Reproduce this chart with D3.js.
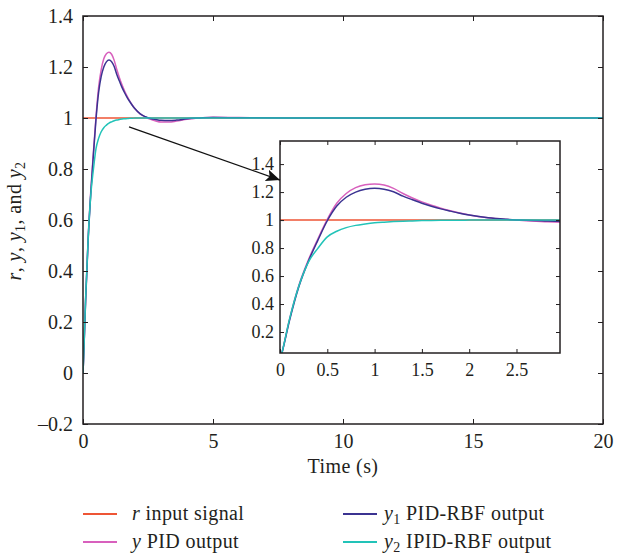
<!DOCTYPE html>
<html lang="en">
    <head>
        <meta charset="utf-8">
        <title>Step response</title>
        <script src="https://d3js.org/d3.v7.min.js"></script>
        <style type="text/css">
            body { margin: 0; background: #fff; }
            text { font-family: "Liberation Serif", serif; fill: #231f20; }
            .axis path { display: none; }
            .axis line { stroke: #231f20; stroke-width: 1; }
            .title { font-size: 20px; letter-spacing: 0.4px; }
        </style>
    </head>
    <body>
        <script type="text/javascript">

            //Data
            const time = [0, 0.02, 0.1, 0.2, 0.3, 0.4, 0.5, 0.6, 0.7, 0.8, 0.9, 1.0, 1.1, 1.2, 1.3, 1.4, 1.5, 1.6, 1.7, 1.8,
                          1.9, 2.0, 2.2, 2.4, 2.6, 2.8, 3.0, 3.3, 3.6, 4.0, 4.5, 5, 6, 8, 20];
            const rInput = time.map(() => 1);
            const yPID = [0, 0.05, 0.29, 0.535, 0.715, 0.865, 1.005, 1.12, 1.19, 1.232, 1.252, 1.258, 1.25, 1.226, 1.19, 1.158, 1.13, 1.106, 1.085, 1.066,
                          1.05, 1.036, 1.016, 1.004, 0.995, 0.988, 0.984, 0.984, 0.988, 0.995, 1.0, 1.003, 1.002, 1.0, 1.0];
            const y1PIDRBF = [0, 0.048, 0.28, 0.525, 0.705, 0.855, 0.995, 1.1, 1.163, 1.2, 1.22, 1.227, 1.221, 1.202, 1.171, 1.145, 1.12, 1.099, 1.08, 1.064,
                              1.049, 1.036, 1.016, 1.005, 0.998, 0.994, 0.991, 0.99, 0.992, 0.997, 1.0, 1.002, 1.001, 1.0, 1.0];
            const y2IPIDRBF = [0, 0.05, 0.29, 0.53, 0.70, 0.798, 0.88, 0.92, 0.946, 0.962, 0.972, 0.98, 0.985, 0.989, 0.992, 0.994, 0.996, 0.997, 0.998, 0.999,
                               0.999, 1.0, 1.0, 1.0, 1.0, 1.0, 1.0, 1.0, 1.0, 1.0, 1.0, 1.0, 1.0, 1.0, 1.0];

            const xTicks = [0, 5, 10, 15, 20];
            const yTicks = [-0.2, 0, 0.2, 0.4, 0.6, 0.8, 1, 1.2, 1.4];
            const insetXTicks = [0, 0.5, 1, 1.5, 2, 2.5];
            const insetYTicks = [0.2, 0.4, 0.6, 0.8, 1, 1.2, 1.4];

            const seriesNames = ["r", "y", "y1", "y2"];
            const seriesValues = [rInput, yPID, y1PIDRBF, y2IPIDRBF];
            const colors = ["#ee5535", "#d860bd", "#3b3391", "#22c3b8"];

            //declare consts
            const w = 617;
            const h = 556;
            const fmt = d => d < 0 ? "\u2013" + Math.abs(d) : String(d);

            const series = seriesNames.map((name, i) => ({
                name: name,
                color: colors[i],
                values: time.map((t, j) => ({t: t, v: seriesValues[i][j]}))
            }));

            const svg = d3.select("body")
                    .append("svg")
                    .attr("width", w)
                    .attr("height", h);

            const defs = svg.append("defs");

            //main plot scales
            const x = d3.scaleLinear().domain([0, 20]).range([83, 603]);
            const y = d3.scaleLinear().domain([-0.2, 1.4]).range([424, 16]);

            defs.append("clipPath").attr("id", "clipMain")
                .append("rect")
                .attr("x", x(0)).attr("y", y(1.4))
                .attr("width", x(20) - x(0)).attr("height", y(-0.2) - y(1.4));

            const line = d3.line()
                    .x(d => x(d.t))
                    .y(d => y(d.v))
                    .curve(d3.curveMonotoneX);

            svg.append("g")
                .attr("clip-path", "url(#clipMain)")
                .selectAll("path")
                .data(series)
                .enter()
                .append("path")
                .attr("fill", "none")
                .attr("stroke", d => d.color)
                .attr("stroke-width", 1.5)
                .attr("d", d => line(d.values));

            //axes, ticks pointing inward
            svg.append("g")
                .attr("class", "axis")
                .attr("transform", "translate(0," + y(-0.2) + ")")
                .call(d3.axisBottom(x).tickValues(xTicks).tickSize(-5).tickPadding(10).tickFormat(fmt))
                .selectAll("text").style("font-size", "20px");

            svg.append("g")
                .attr("class", "axis")
                .attr("transform", "translate(0," + y(1.4) + ")")
                .call(d3.axisTop(x).tickValues(xTicks).tickSize(-5).tickFormat(""));

            svg.append("g")
                .attr("class", "axis")
                .attr("transform", "translate(" + x(0) + ",0)")
                .call(d3.axisLeft(y).tickValues(yTicks).tickSize(-5).tickPadding(10).tickFormat(fmt))
                .selectAll("text").style("font-size", "20px");

            svg.append("g")
                .attr("class", "axis")
                .attr("transform", "translate(" + x(20) + ",0)")
                .call(d3.axisRight(y).tickValues(yTicks).tickSize(-5).tickFormat(""));

            svg.append("rect")
                .attr("x", x(0)).attr("y", y(1.4))
                .attr("width", x(20) - x(0)).attr("height", y(-0.2) - y(1.4))
                .attr("fill", "none")
                .attr("stroke", "#231f20")
                .attr("stroke-width", 1.5);

            //axis titles
            svg.append("text")
                .attr("class", "title")
                .attr("x", (x(0) + x(20)) / 2)
                .attr("y", 473)
                .attr("text-anchor", "middle")
                .text("Time (s)");

            const yTitle = svg.append("text")
                .attr("class", "title")
                .attr("transform", "translate(21," + ((y(1.4) + y(-0.2)) / 2 + 1) + ") rotate(-90)")
                .attr("text-anchor", "middle");
            yTitle.append("tspan").style("font-style", "italic").text("r");
            yTitle.append("tspan").text(", ");
            yTitle.append("tspan").style("font-style", "italic").text("y");
            yTitle.append("tspan").text(", ");
            yTitle.append("tspan").style("font-style", "italic").text("y");
            yTitle.append("tspan").attr("dy", 4).style("font-size", "14px").text("1");
            yTitle.append("tspan").attr("dy", -4).text(", and ");
            yTitle.append("tspan").style("font-style", "italic").text("y");
            yTitle.append("tspan").attr("dy", 4).style("font-size", "14px").text("2");

            //inset
            const ix = d3.scaleLinear().domain([0, 2.96]).range([280, 560]);
            const iy = d3.scaleLinear().domain([0.05, 1.565]).range([353, 141]);

            defs.append("clipPath").attr("id", "clipInset")
                .append("rect")
                .attr("x", ix(0)).attr("y", iy(1.565))
                .attr("width", ix(2.96) - ix(0)).attr("height", iy(0.05) - iy(1.565));

            svg.append("rect")
                .attr("x", ix(0)).attr("y", iy(1.565))
                .attr("width", ix(2.96) - ix(0)).attr("height", iy(0.05) - iy(1.565))
                .attr("fill", "#fff");

            const insetLine = d3.line()
                    .x(d => ix(d.t))
                    .y(d => iy(d.v))
                    .curve(d3.curveMonotoneX);

            svg.append("g")
                .attr("clip-path", "url(#clipInset)")
                .selectAll("path")
                .data(series)
                .enter()
                .append("path")
                .attr("fill", "none")
                .attr("stroke", d => d.color)
                .attr("stroke-width", 1.5)
                .attr("d", d => insetLine(d.values));

            svg.append("g")
                .attr("class", "axis")
                .attr("transform", "translate(0," + iy(0.05) + ")")
                .call(d3.axisBottom(ix).tickValues(insetXTicks).tickSize(-4).tickPadding(10).tickFormat(fmt))
                .selectAll("text").style("font-size", "18px");

            svg.append("g")
                .attr("class", "axis")
                .attr("transform", "translate(0," + iy(1.565) + ")")
                .call(d3.axisTop(ix).tickValues(insetXTicks).tickSize(-4).tickFormat(""));

            svg.append("g")
                .attr("class", "axis")
                .attr("transform", "translate(" + ix(0) + ",0)")
                .call(d3.axisLeft(iy).tickValues(insetYTicks).tickSize(-4).tickPadding(6).tickFormat(fmt))
                .selectAll("text").style("font-size", "18px");

            svg.append("g")
                .attr("class", "axis")
                .attr("transform", "translate(" + ix(2.96) + ",0)")
                .call(d3.axisRight(iy).tickValues(insetYTicks).tickSize(-4).tickFormat(""));

            svg.append("rect")
                .attr("x", ix(0)).attr("y", iy(1.565))
                .attr("width", ix(2.96) - ix(0)).attr("height", iy(0.05) - iy(1.565))
                .attr("fill", "none")
                .attr("stroke", "#231f20")
                .attr("stroke-width", 1.5);

            //zoom arrow
            defs.append("marker")
                .attr("id", "head")
                .attr("viewBox", "0 0 14 12")
                .attr("refX", 14).attr("refY", 6)
                .attr("markerWidth", 14).attr("markerHeight", 12)
                .attr("markerUnits", "userSpaceOnUse")
                .attr("orient", "auto")
                .append("path")
                .attr("d", "M0,0 L14,6 L0,12 L3,6 Z")
                .attr("fill", "#111");

            svg.append("line")
                .attr("x1", x(1.77)).attr("y1", y(0.965))
                .attr("x2", ix(0)).attr("y2", iy(1.286))
                .attr("stroke", "#111")
                .attr("stroke-width", 1.3)
                .attr("marker-end", "url(#head)");

            //legend
            const legendItems = [
                {color: colors[0], sym: "r", sub: "", label: " input signal", lx: 83, ly: 514},
                {color: colors[1], sym: "y", sub: "", label: " PID output", lx: 83, ly: 542},
                {color: colors[2], sym: "y", sub: "1", label: " PID-RBF output", lx: 343, ly: 514},
                {color: colors[3], sym: "y", sub: "2", label: " IPID-RBF output", lx: 343, ly: 542}
            ];

            const legend = svg.selectAll("g.legend")
                    .data(legendItems)
                    .enter()
                    .append("g")
                    .attr("class", "legend")
                    .attr("transform", d => "translate(" + d.lx + "," + d.ly + ")");

            legend.append("line")
                .attr("x1", 0).attr("x2", 34)
                .attr("stroke", d => d.color)
                .attr("stroke-width", 1.8);

            const lt = legend.append("text")
                .attr("class", "title")
                .attr("x", (d, i) => i < 2 ? 49 : 41)
                .attr("y", 6);
            lt.append("tspan").style("font-style", "italic").text(d => d.sym);
            lt.filter(d => d.sub !== "").append("tspan")
                .attr("dy", 4).style("font-size", "14px").text(d => d.sub);
            lt.append("tspan")
                .attr("dy", d => d.sub !== "" ? -4 : 0)
                .text(d => d.label);

        </script>
    </body>
</html>
